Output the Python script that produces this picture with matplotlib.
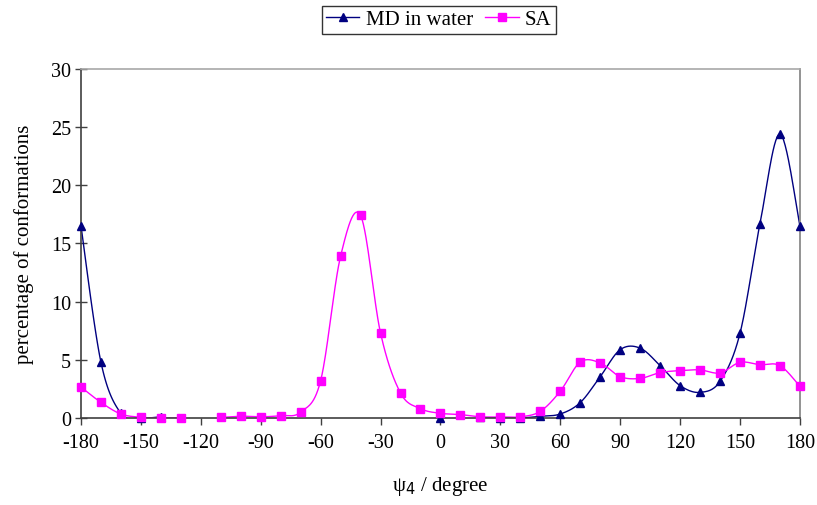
import numpy as np
import matplotlib
matplotlib.use("Agg")
import matplotlib.pyplot as plt
from matplotlib.lines import Line2D

plt.rcParams['font.family'] = ['Liberation Serif', 'DejaVu Serif']

angles = list(range(-180, 181, 10))
md_water = [16.5, 4.8, 0.4, 0.0, 0.1, None, None, None, None, None, None, None, None, None, None, None, None, None,
            0.0, None, 0.05, 0.0, 0.0, 0.14, 0.34, 1.32, 3.55, 5.87, 6.0, 4.5, 2.78, 2.2, 3.15, 7.28, 16.7, 24.4, 16.5]
sa = [2.66, 1.34, 0.34, 0.06, 0.0, 0.0, None, 0.05, 0.15, 0.1, 0.2, 0.5, 3.2, 13.9, 17.4, 7.3, 2.15, 0.8,
      0.4, 0.29, 0.09, 0.09, 0.1, 0.57, 2.3, 4.8, 4.73, 3.55, 3.4, 3.9, 4.07, 4.13, 3.87, 4.78, 4.58, 4.5, 2.72]

x_ticks = [-180, -150, -120, -90, -60, -30, 0, 30, 60, 90, 120, 150, 180]
y_ticks = [0, 5, 10, 15, 20, 25, 30]


def segments(xs, ys):
    seg = []
    for x, y in zip(xs, ys):
        if y is None:
            if seg:
                yield seg
            seg = []
        else:
            seg.append((x, y))
    if seg:
        yield seg


def smooth(seg, n=30):
    pts = np.array(seg, dtype=float)
    if len(pts) < 2:
        return pts[:, 0], pts[:, 1]
    P = np.vstack([pts[0], pts, pts[-1]])
    out = []
    for i in range(1, len(P) - 2):
        p0, p1, p2, p3 = P[i - 1], P[i], P[i + 1], P[i + 2]
        t = np.linspace(0, 1, n)[:, None]
        c = 0.5 * ((2 * p1) + (-p0 + p2) * t + (2 * p0 - 5 * p1 + 4 * p2 - p3) * t ** 2
                   + (-p0 + 3 * p1 - 3 * p2 + p3) * t ** 3)
        out.append(c)
    c = np.vstack(out)
    return c[:, 0], c[:, 1]


fig = plt.figure(figsize=(8.17, 5.06), dpi=100)
ax = fig.add_axes([0.0991, 0.172, 0.880, 0.690])

series = [(md_water, '#000080', '^', 'MD in water'), (sa, '#FF00FF', 's', 'SA')]
for ys, col, mk, lab in series:
    for seg in segments(angles, ys):
        sx, sy = smooth(seg)
        ax.plot(sx, sy, color=col, lw=1.0, zorder=2)
        ax.plot([p[0] for p in seg], [p[1] for p in seg], ls='none', marker=mk,
                color=col, ms=6, zorder=3, clip_on=False)

ax.set_xlim(-180, 180)
ax.set_ylim(0, 30)
ax.set_xticks(x_ticks)
ax.set_xticklabels([str(v) for v in x_ticks])
ax.set_yticks(y_ticks)
ax.tick_params(axis='x', direction='out', length=5, width=1, colors='#404040', labelcolor='black',
               labelsize=14.5, pad=6)
ax.tick_params(axis='y', direction='inout', length=8, width=1, colors='#404040', labelcolor='black',
               labelsize=14.5, pad=3)
for s in ['left', 'bottom']:
    ax.spines[s].set_color('#404040')
    ax.spines[s].set_linewidth(1.2)
ax.spines['top'].set_color('#a8a8a8')
ax.spines['right'].set_color('#808080')
ax.spines['top'].set_linewidth(1.2)
ax.spines['right'].set_linewidth(1.2)

ax.set_xlabel('ψ$_4$ / degree', fontsize=15, labelpad=16)
ax.set_ylabel('percentage of conformations', fontsize=15, labelpad=12)

handles = [Line2D([0], [0], color='#000080', marker='^', lw=1, ms=6),
           Line2D([0], [0], color='#FF00FF', marker='s', lw=1, ms=6)]
leg = fig.legend(handles, ['MD in water', 'SA'], loc='upper center', bbox_to_anchor=(0.537, 0.995),
                 ncol=2, frameon=True, fancybox=False, edgecolor='black', fontsize=15,
                 handlelength=1.6, handletextpad=0.3, columnspacing=0.6, borderpad=0.2,
                 borderaxespad=0.2)
leg.get_frame().set_linewidth(1.0)

fig.savefig('out.png', dpi=100)
